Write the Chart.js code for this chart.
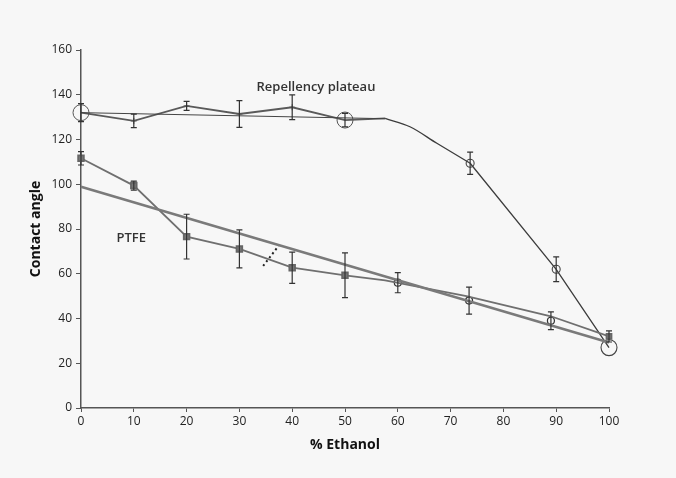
<!DOCTYPE html>
<html>
<head>
<meta charset="utf-8">
<script src="https://cdn.jsdelivr.net/npm/chart.js@4.4.1/dist/chart.umd.min.js"></script>
<style>
  body { margin: 0; background: #f7f7f7; }
  canvas { display: block; }
</style>
</head>
<body>
<canvas id="chart" width="676" height="478"></canvas>
<script>
// ================= DATA =================
const xTicks = [0, 10, 20, 30, 40, 50, 60, 70, 80, 90, 100];
const yTicks = [0, 20, 40, 60, 80, 100, 120, 140, 160];

// repellency plateau (measured)
const plateauX = [0, 10, 20, 30, 40, 50, 57.6];
const plateauY = [132, 128.3, 135, 131.4, 134.4, 128.7, 129.4];
const plateauErr = [4, 3, 2, 6, 5.5, 3, 0];

// thin straight line across the plateau
const refX = [0, 57.6];
const refY = [132, 129.3];

// bend after the plateau (curve)
const bendX = [57.6, 62.3, 67.4, 73.7];
const bendY = [129.4, 125.7, 118.3, 109.4];

// straight drop to 100 %
const dropX = [73.7, 90, 100];
const dropY = [109.4, 62, 27];
const dropErr = [5, 5.5, 0];

// PTFE measured
const ptfeX = [0, 10, 20, 30, 40, 50, 57.6, 73, 89, 100];
const ptfeY = [111.6, 99.4, 76.6, 71.1, 62.7, 59.3, 57, 50, 41, 32];
const ptfeErr = [3, 2, 10, 8.5, 7, 10, 0, 0, 0, 2.5];

// circles sitting on the PTFE trend
const lowX = [60, 73.5, 89];
const lowY = [56, 48, 39];
const lowErr = [4.5, 6, 4];

// PTFE trend line
const fitX = [0, 100];
const fitY = [98.9, 29.3];

// short dotted mark
const dotX = [34.5, 37.4];
const dotY = [63.5, 72.4];

// text labels [x, y, text]
const notes = [
    [44.5, 143.5, "Repellency plateau"],
    [9.5, 76, "PTFE"]
];

// ================= HELPERS =================
function pts(xs, ys) {
    return xs.map((x, i) => ({ x: x, y: ys[i] }));
}

const FONT = "'Open Sans', 'Liberation Sans', sans-serif";

// error bars + labels
const extras = {
    id: "extras",
    afterDatasetsDraw(chart) {
        const ctx = chart.ctx;
        const ys = chart.scales.y;
        const xs = chart.scales.x;
        chart.data.datasets.forEach((ds, di) => {
            if (!ds.errorBars) return;
            const meta = chart.getDatasetMeta(di);
            ctx.save();
            ctx.strokeStyle = "#333";
            ctx.lineWidth = 1.2;
            ds.data.forEach((p, i) => {
                const e = ds.errorBars[i];
                if (!e) return;
                const px = meta.data[i].x;
                const top = ys.getPixelForValue(p.y + e);
                const bot = ys.getPixelForValue(p.y - e);
                ctx.beginPath();
                ctx.moveTo(px, top);
                ctx.lineTo(px, bot);
                ctx.moveTo(px - 3, top);
                ctx.lineTo(px + 3, top);
                ctx.moveTo(px - 3, bot);
                ctx.lineTo(px + 3, bot);
                ctx.stroke();
            });
            ctx.restore();
        });

        ctx.save();
        ctx.fillStyle = "#333";
        ctx.font = "600 13px " + FONT;
        ctx.textAlign = "center";
        ctx.textBaseline = "middle";
        notes.forEach(n => {
            ctx.fillText(n[2], xs.getPixelForValue(n[0]), ys.getPixelForValue(n[1]));
        });
        ctx.restore();
    }
};

// ================= CHART =================
new Chart(document.getElementById("chart"), {
    type: "scatter",
    data: {
        datasets: [
            {
                data: pts(fitX, fitY),
                showLine: true,
                borderColor: "#7a7a7a",
                borderWidth: 2.6,
                pointRadius: 0
            },
            {
                data: pts(ptfeX, ptfeY),
                showLine: true,
                borderColor: "#6f6f6f",
                borderWidth: 1.8,
                pointStyle: "rect",
                pointRadius: [4, 4, 4, 4, 4, 4, 0, 0, 0, 3.5],
                backgroundColor: "#777",
                pointBorderColor: "#666",
                errorBars: ptfeErr
            },
            {
                data: pts(lowX, lowY),
                showLine: false,
                pointStyle: "circle",
                pointRadius: 3.5,
                backgroundColor: "rgba(0,0,0,0)",
                pointBorderColor: "#333",
                pointBorderWidth: 1.2,
                errorBars: lowErr
            },
            {
                data: pts(refX, refY),
                showLine: true,
                borderColor: "#444",
                borderWidth: 1,
                pointRadius: 0
            },
            {
                data: pts(plateauX, plateauY),
                showLine: true,
                borderColor: "#5a5a5a",
                borderWidth: 1.8,
                pointStyle: ["circle", "cross", "cross", "cross", "cross", "circle", "cross"],
                pointRadius: [8, 3, 3, 3, 3, 8, 0],
                backgroundColor: "rgba(0,0,0,0)",
                pointBorderColor: "#555",
                pointBorderWidth: 1,
                errorBars: plateauErr
            },
            {
                data: pts(bendX, bendY),
                showLine: true,
                tension: 0.35,
                borderColor: "#3c3c3c",
                borderWidth: 1.3,
                pointRadius: 0
            },
            {
                data: pts(dropX, dropY),
                showLine: true,
                borderColor: "#3c3c3c",
                borderWidth: 1.3,
                pointStyle: "circle",
                pointRadius: [4, 4, 8],
                backgroundColor: "rgba(0,0,0,0)",
                pointBorderColor: "#444",
                pointBorderWidth: 1.1,
                errorBars: dropErr
            },
            {
                data: pts(dotX, dotY),
                showLine: true,
                borderColor: "#222",
                borderWidth: 2,
                borderDash: [2, 3],
                pointRadius: 0
            }
        ]
    },
    options: {
        responsive: false,
        animation: false,
        clip: false,
        layout: { padding: { top: 50, right: 67, left: 0, bottom: 0 } },
        plugins: {
            legend: { display: false },
            tooltip: { enabled: false }
        },
        scales: {
            x: {
                type: "linear",
                min: 0,
                max: 100,
                afterFit: s => { s.height = 70; },
                afterBuildTicks: s => { s.ticks = xTicks.map(v => ({ value: v })); },
                ticks: { color: "#222", font: { family: FONT, size: 12 }, padding: 2 },
                grid: { drawOnChartArea: false, tickLength: 4, color: "#555" },
                border: { color: "#555", width: 1.5 },
                title: {
                    display: true,
                    text: "% Ethanol",
                    color: "#111",
                    font: { family: FONT, size: 14, weight: "bold" },
                    padding: { top: 0, bottom: 25 }
                }
            },
            y: {
                min: 0,
                max: 160,
                afterFit: s => { s.width = 81; },
                afterBuildTicks: s => { s.ticks = yTicks.map(v => ({ value: v })); },
                ticks: { color: "#222", font: { family: FONT, size: 12 }, padding: 4 },
                grid: { drawOnChartArea: false, tickLength: 5, color: "#555" },
                border: { color: "#555", width: 1.5 },
                title: {
                    display: true,
                    text: "Contact angle",
                    color: "#111",
                    font: { family: FONT, size: 14, weight: "bold" },
                    padding: { top: 28, bottom: 0 }
                }
            }
        }
    },
    plugins: [extras]
});
</script>
</body>
</html>
